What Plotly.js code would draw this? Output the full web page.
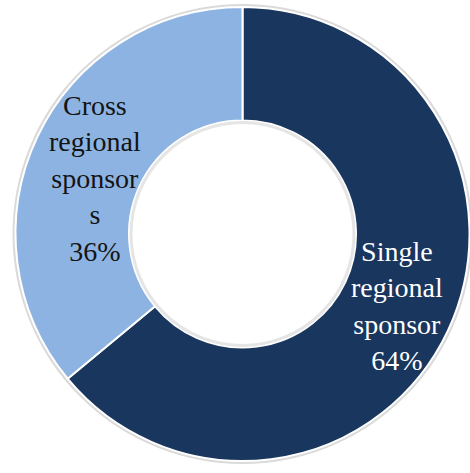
<!DOCTYPE html>
<html>
<head>
<meta charset="utf-8">
<script src="https://cdn.plot.ly/plotly-3.0.1.min.js"></script>
<style>html,body{margin:0;padding:0;background:#fff;}#chart{width:470px;height:473px;}</style>
</head>
<body>
<div id="chart"></div>
<script>
const categories = ["Single<br>regional<br>sponsor", "Cross<br>regional<br>sponsor<br>s"];
const values = [64, 36];
const sliceColors = ["#19365e", "#8db3e2"];
const textColors = ["#ffffff", "#141414"];

const W = 470, H = 473;
const domX = [0.033, 0.999], domY = [0.0254, 0.9852];
const holeFrac = 0.5;
// small per-label nudges in pixels (placement style only)
const labelShiftX = [0, 7];
const labelShiftY = [0, -17];

const trace = {
  type: "pie",
  labels: categories,
  values: values,
  hole: holeFrac,
  sort: false,
  direction: "clockwise",
  rotation: 0,
  marker: { colors: sliceColors, line: { color: "#ffffff", width: 2 } },
  textinfo: "none",
  hoverinfo: "none",
  domain: { x: domX, y: domY }
};

// Label positions derived from the data: middle angle of each slice, middle of the ring
const total = values.reduce((a, b) => a + b, 0);
const cxPx = (domX[0] + domX[1]) / 2 * W;
const cyPx = (1 - (domY[0] + domY[1]) / 2) * H;
const radPx = Math.min((domX[1] - domX[0]) * W, (domY[1] - domY[0]) * H) / 2;
const rMid = radPx * (1 + holeFrac) / 2;
let cum = 0;
const annotations = values.map((v, i) => {
  const mid = (cum + v / 2) / total * 2 * Math.PI;
  cum += v;
  const xp = cxPx + rMid * Math.sin(mid);
  const yp = cyPx - rMid * Math.cos(mid);
  return {
    xref: "paper", yref: "paper",
    x: xp / W, y: 1 - yp / H,
    xshift: labelShiftX[i], yshift: labelShiftY[i],
    xanchor: "center", yanchor: "middle",
    showarrow: false,
    align: "center",
    text: categories[i] + "<br>" + Math.round(v / total * 100) + "%",
    font: { family: "Liberation Serif", size: 28, color: textColors[i] }
  };
});

// soft edge shading around the ring (decoration)
function ring(r, color, width, layer) {
  return {
    type: "circle", xref: "paper", yref: "paper", layer: layer,
    x0: (cxPx - r) / W, x1: (cxPx + r) / W,
    y0: 1 - (cyPx + r) / H, y1: 1 - (cyPx - r) / H,
    line: { color: color, width: width }, fillcolor: "rgba(0,0,0,0)"
  };
}
const shapes = [
  ring(radPx + 1.5, "rgba(150,150,150,0.35)", 3, "below"),
  ring(radPx * holeFrac - 2, "rgba(150,150,150,0.25)", 3, "above")
];

const layout = {
  width: W,
  height: H,
  margin: { l: 0, r: 0, t: 0, b: 0 },
  showlegend: false,
  paper_bgcolor: "#ffffff",
  annotations: annotations,
  shapes: shapes
};

Plotly.newPlot("chart", [trace], layout, { displayModeBar: false, staticPlot: true });
</script>
</body>
</html>
